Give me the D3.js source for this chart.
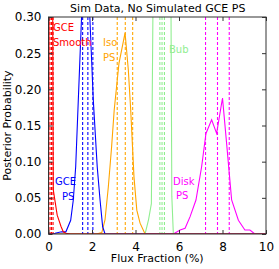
<!DOCTYPE html>
<html>
<head>
<meta charset="utf-8">
<script src="https://cdn.jsdelivr.net/npm/d3@7"></script>
<style>
  body { margin: 0; background: white; }
  svg { display: block; }
  text { font-family: "DejaVu Sans", sans-serif; }
</style>
</head>
<body>
<svg id="chart"></svg>
<script>
// posterior curves (flux fraction %, probability)
var smoothX = [0.0, 0.1, 0.22, 0.4, 0.58, 0.68, 0.8, 1.0, 10];
var smoothY = [0.0, 1.2, 0.061, 0.026, 0.010, 0.003, 0.001, 0.0, 0.0];

var gcePsX = [0.0, 0.3, 0.6, 0.8, 1.02, 1.14, 1.25, 1.37, 1.52, 1.7, 1.9, 2.06, 2.24, 2.37, 2.49, 2.6, 10];
var gcePsY = [0.0, 0.001, 0.003, 0.003, 0.019, 0.047, 0.093, 0.185, 0.30, 0.45, 0.30, 0.185, 0.093, 0.047, 0.010, 0.0, 0.0];

var isoX = [0.0, 2.2, 2.45, 2.6, 2.75, 2.9, 3.02, 3.24, 3.52, 3.67, 3.78, 3.93, 4.06, 4.21, 4.44, 10];
var isoY = [0.0, 0.0, 0.002, 0.02, 0.065, 0.12, 0.171, 0.236, 0.278, 0.227, 0.171, 0.079, 0.033, 0.015, 0.0, 0.0];

var bubX = [0.0, 4.44, 4.6, 4.73, 4.88, 5.2, 5.59, 5.67, 5.74, 10];
var bubY = [0.0, 0.0, 0.02, 0.042, 0.6, 1.0, 0.6, 0.052, 0.0, 0.0];

var diskX = [0.0, 5.74, 6.05, 6.28, 6.51, 6.78, 7.04, 7.24, 7.5, 7.73, 8.0, 8.19, 8.42, 8.73, 9.03, 9.26, 9.49, 10];
var diskY = [0.0, 0.0, 0.0055, 0.008, 0.024, 0.047, 0.093, 0.139, 0.158, 0.139, 0.188, 0.125, 0.047, 0.019, 0.0055, 0.0055, 0.0, 0.0];

// 16/50/84 percent quantiles
var smoothQ = [0.07, 0.14, 0.21];
var gcePsQ = [1.57, 1.81, 2.04];
var isoQ = [3.16, 3.53, 3.87];
var bubQ = [5.12, 5.22, 5.33];
var diskQ = [7.22, 7.77, 8.31];

var xTicks = [0, 2, 4, 6, 8, 10];
var yTicks = [0.00, 0.05, 0.10, 0.15, 0.20, 0.25, 0.30];

var series = [
  {name: "Disk", color: "magenta", xs: diskX, ys: diskY, q: diskQ, label: ["Disk", "PS"], lx: [173, 176], ly: [185, 199]},
  {name: "Bub", color: "lightgreen", xs: bubX, ys: bubY, q: bubQ, label: ["Bub"], lx: [169], ly: [53]},
  {name: "Iso", color: "orange", xs: isoX, ys: isoY, q: isoQ, label: ["Iso", "PS"], lx: [103, 103], ly: [46, 61]},
  {name: "GCE PS", color: "blue", xs: gcePsX, ys: gcePsY, q: gcePsQ, label: ["GCE", "PS"], lx: [55, 62], ly: [185, 200]},
  {name: "GCE Smooth", color: "red", xs: smoothX, ys: smoothY, q: smoothQ, label: ["GCE", "Smooth"], lx: [53, 53], ly: [31, 46]}
];

var W = 279, H = 269;
var pLeft = 48.5, pRight = 266, pTop = 17, pBottom = 234;

var svg = d3.select("#chart").attr("width", W).attr("height", H);

var x = d3.scaleLinear().domain([0, 10]).range([pLeft, pRight]);
var y = d3.scaleLinear().domain([0, 0.30]).range([pBottom, pTop]);

svg.append("clipPath").attr("id", "clip")
  .append("rect")
  .attr("x", pLeft).attr("y", pTop)
  .attr("width", pRight - pLeft).attr("height", pBottom - pTop);

var plot = svg.append("g").attr("clip-path", "url(#clip)");

var line = d3.line()
  .x(function(d) { return x(d[0]); })
  .y(function(d) { return y(d[1]); });

series.forEach(function(s) {
  var pts = s.xs.map(function(v, i) { return [v, s.ys[i]]; });
  plot.append("path")
    .attr("d", line(pts))
    .attr("fill", "none")
    .attr("stroke", s.color)
    .attr("stroke-width", 1.1);

  s.q.forEach(function(v) {
    plot.append("line")
      .attr("x1", x(v)).attr("x2", x(v))
      .attr("y1", pTop).attr("y2", pBottom)
      .attr("stroke", s.color)
      .attr("stroke-width", 1.1)
      .attr("stroke-dasharray", "3,2");
  });

  s.label.forEach(function(t, i) {
    svg.append("text")
      .attr("x", s.lx[i]).attr("y", s.ly[i])
      .attr("fill", s.color)
      .attr("font-size", "10px")
      .text(t);
  });
});

// axes, ticks pointing inward on all sides
var frame = "#333";
svg.append("g")
  .attr("transform", "translate(0," + pBottom + ")")
  .call(d3.axisBottom(x).tickValues(xTicks).tickSizeInner(-4).tickSizeOuter(0).tickPadding(8)
    .tickFormat(d3.format("d")))
  .call(function(g) {
    g.select(".domain").remove();
    g.selectAll("line").attr("stroke", frame);
    g.selectAll("text").attr("font-size", "12px").attr("fill", "black");
  });

svg.append("g")
  .attr("transform", "translate(0," + pTop + ")")
  .call(d3.axisTop(x).tickValues(xTicks).tickSizeInner(-4).tickSizeOuter(0).tickFormat(""))
  .call(function(g) {
    g.select(".domain").remove();
    g.selectAll("line").attr("stroke", frame);
  });

svg.append("g")
  .attr("transform", "translate(" + pLeft + ",0)")
  .call(d3.axisLeft(y).tickValues(yTicks).tickSizeInner(-4).tickSizeOuter(0).tickPadding(7)
    .tickFormat(d3.format(".2f")))
  .call(function(g) {
    g.select(".domain").remove();
    g.selectAll("line").attr("stroke", frame);
    g.selectAll("text").attr("font-size", "12px").attr("fill", "black");
  });

svg.append("g")
  .attr("transform", "translate(" + pRight + ",0)")
  .call(d3.axisRight(y).tickValues(yTicks).tickSizeInner(-4).tickSizeOuter(0).tickFormat(""))
  .call(function(g) {
    g.select(".domain").remove();
    g.selectAll("line").attr("stroke", frame);
  });

svg.append("rect")
  .attr("x", pLeft).attr("y", pTop)
  .attr("width", pRight - pLeft).attr("height", pBottom - pTop)
  .attr("fill", "none")
  .attr("stroke", frame)
  .attr("stroke-width", 1);

svg.append("text")
  .attr("x", (pLeft + pRight) / 2 + 0.5).attr("y", 12)
  .attr("text-anchor", "middle")
  .attr("font-size", "11px")
  .text("Sim Data, No Simulated GCE PS");

svg.append("text")
  .attr("x", (pLeft + pRight) / 2).attr("y", 262)
  .attr("text-anchor", "middle")
  .attr("font-size", "11px")
  .text("Flux Fraction (%)");

svg.append("text")
  .attr("transform", "translate(11," + ((pTop + pBottom) / 2) + ") rotate(-90)")
  .attr("text-anchor", "middle")
  .attr("font-size", "11px")
  .text("Posterior Probability");
</script>
</body>
</html>
